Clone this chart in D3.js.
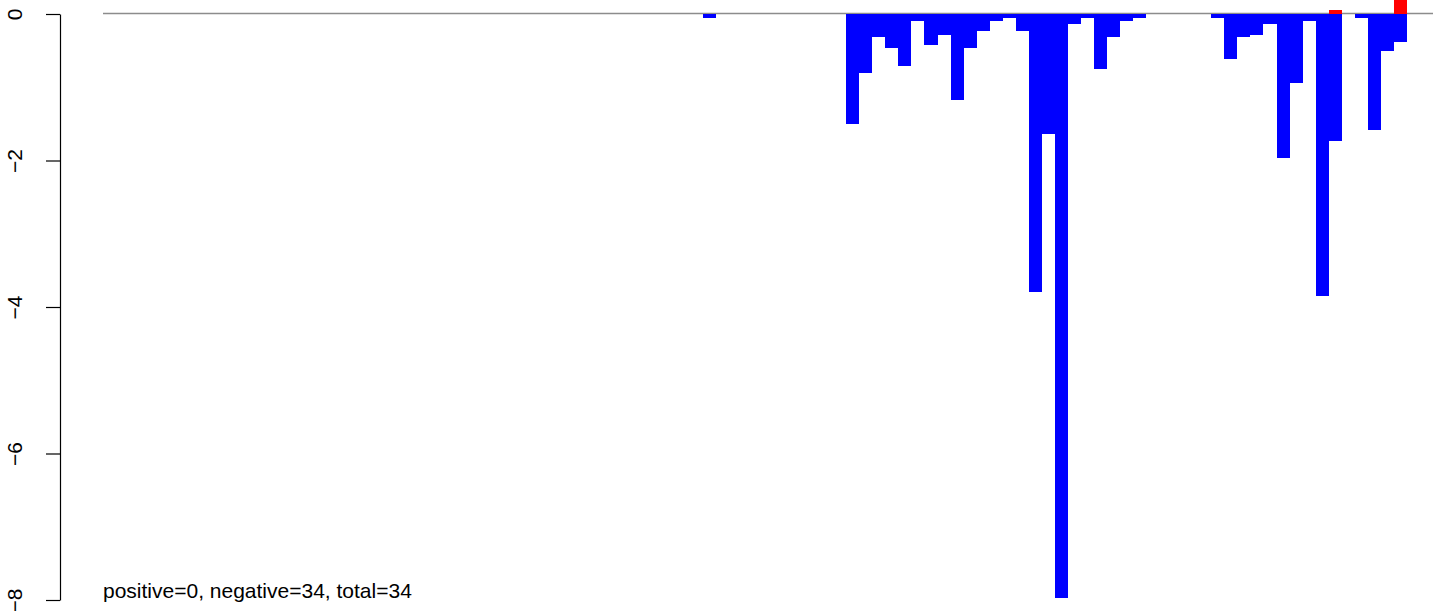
<!DOCTYPE html>
<html>
<head>
<meta charset="utf-8">
<script src="https://cdn.jsdelivr.net/npm/d3@7"></script>
<style>
  body { margin: 0; background: #fff; }
  svg { display: block; }
  text { font-family: "Liberation Sans", Arial, Helvetica, sans-serif; }
</style>
</head>
<body>
<div class="container"></div>
<script>
// bins along x (102 slots, last two empty)
const bins = d3.range(1, 103)

// negative part of each bin
const negValues = [
  0, 0, 0, 0, 0, 0, 0, 0, 0, 0,
  0, 0, 0, 0, 0, 0, 0, 0, 0, 0,
  0, 0, 0, 0, 0, 0, 0, 0, 0, 0,
  0, 0, 0, 0, 0, 0, 0, 0, 0, 0,
  0, 0, 0, 0, 0, 0, -0.06, 0, 0, 0,
  0, 0, 0, 0, 0, 0, 0, -1.50, -0.80, -0.32,
  -0.46, -0.71, -0.09, -0.42, -0.28, -1.17, -0.46, -0.23, -0.09, -0.05,
  -0.23, -3.79, -1.64, -7.97, -0.13, -0.05, -0.75, -0.32, -0.09, -0.05,
  0, 0, 0, 0, 0, -0.05, -0.61, -0.32, -0.28, -0.13,
  -1.96, -0.94, -0.09, -3.85, -1.73, 0, -0.05, -1.59, -0.51, -0.38,
  0, 0
]

// positive part of each bin
const posValues = [
  0, 0, 0, 0, 0, 0, 0, 0, 0, 0,
  0, 0, 0, 0, 0, 0, 0, 0, 0, 0,
  0, 0, 0, 0, 0, 0, 0, 0, 0, 0,
  0, 0, 0, 0, 0, 0, 0, 0, 0, 0,
  0, 0, 0, 0, 0, 0, 0, 0, 0, 0,
  0, 0, 0, 0, 0, 0, 0, 0, 0, 0,
  0, 0, 0, 0, 0, 0, 0, 0, 0, 0,
  0, 0, 0, 0, 0, 0, 0, 0, 0, 0,
  0, 0, 0, 0, 0, 0, 0, 0, 0, 0,
  0, 0, 0, 0, 0.05, 0, 0, 0, 0, 0.2,
  0, 0
]

const yTicks = [0, -2, -4, -6, -8]
const label = 'positive=0, negative=34, total=34'

const width = 1444, height = 611

const svg = d3.select('.container').append('svg')
    .attr('width', width)
    .attr('height', height)

const x = d3.scaleBand()
    .domain(bins)
    .range([103, 1433])
    .padding(0)

const y = d3.scaleLinear()
    .domain([-8, 0])
    .range([600, 14])

// zero line
svg.append('line')
    .attr('x1', x.range()[0])
    .attr('x2', x.range()[1])
    .attr('y1', y(0) - 0.5)
    .attr('y2', y(0) - 0.5)
    .attr('stroke', '#8c8c8c')
    .attr('stroke-width', 1.3)

const negData = bins.map((b, i) => ({ bin: b, v: negValues[i] })).filter(d => d.v < 0)
const posData = bins.map((b, i) => ({ bin: b, v: posValues[i] })).filter(d => d.v > 0)

svg.append('g')
    .selectAll('rect')
    .data(negData)
    .enter().append('rect')
        .attr('x', d => x(d.bin))
        .attr('width', x.bandwidth())
        .attr('y', y(0))
        .attr('height', d => y(d.v) - y(0))
        .attr('fill', '#0000ff')
        .attr('shape-rendering', 'crispEdges')

svg.append('g')
    .selectAll('rect')
    .data(posData)
    .enter().append('rect')
        .attr('x', d => x(d.bin))
        .attr('width', x.bandwidth())
        .attr('y', d => y(d.v))
        .attr('height', d => y(0) - y(d.v))
        .attr('fill', '#ff0000')
        .attr('shape-rendering', 'crispEdges')

// y axis, R style
const yAxis = svg.append('g')
    .attr('transform', 'translate(60,0)')
    .call(d3.axisLeft(y).tickValues(yTicks).tickSize(14).tickSizeOuter(0).tickFormat(d3.format('d')))

yAxis.select('.domain').attr('stroke', '#000').attr('stroke-width', 1.2)
yAxis.selectAll('.tick line').attr('stroke', '#000').attr('stroke-width', 1.2)
yAxis.selectAll('.tick text')
    .attr('x', 0)
    .attr('dy', '0.35em')
    .attr('text-anchor', 'middle')
    .attr('transform', 'translate(-45,0) rotate(-90)')
    .style('font-size', '21px')
    .attr('fill', '#000')
    .text(d => d === 0 ? '0' : '\u2212' + Math.abs(d))

svg.append('text')
    .attr('x', 103)
    .attr('y', 598)
    .style('font-size', '21px')
    .attr('fill', '#000')
    .text(label)
</script>
</body>
</html>
